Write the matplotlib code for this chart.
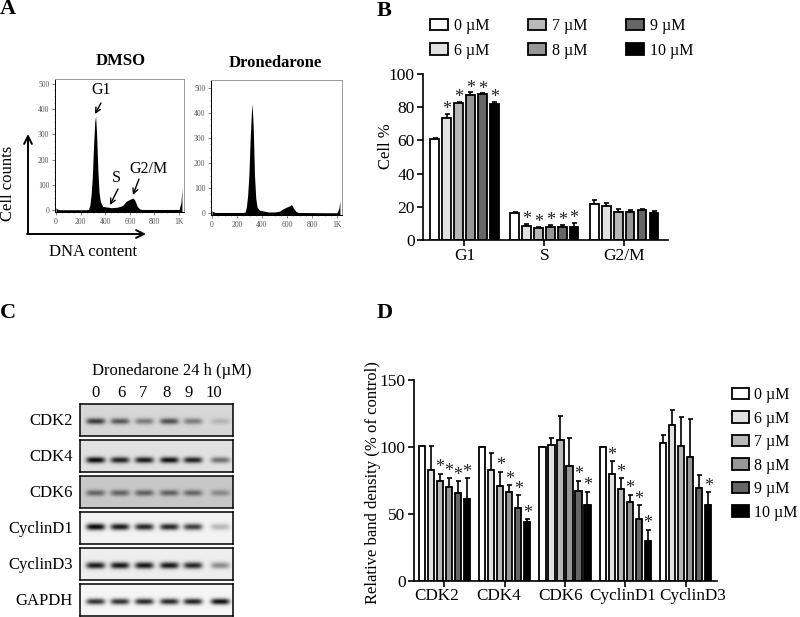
import numpy as np
import matplotlib
matplotlib.use("Agg")
import matplotlib.pyplot as plt
from matplotlib.ticker import MultipleLocator

plt.rcParams["font.family"] = ["Liberation Serif", "DejaVu Serif"]
plt.rcParams["mathtext.fontset"] = "stix"

W, H = 800, 617

# Panel A histograms
dmso_x = [0, 10, 25, 250, 265, 275, 285, 295, 305, 315, 322, 330, 340, 350, 360, 380, 450,
          500, 540, 570, 600, 625, 640, 660, 680, 700, 900, 1000, 1015, 1023]
dmso_y = [10, 5, 2, 2, 4, 20, 60, 130, 250, 350, 372, 300, 160, 70, 35, 15, 10,
          12, 18, 35, 43, 48, 40, 15, 5, 3, 3, 3, 30, 85]
drone_x = [0, 10, 25, 250, 265, 275, 285, 295, 305, 315, 321, 330, 340, 350, 360, 380, 450,
           500, 540, 570, 600, 625, 636, 650, 670, 690, 900, 1000, 1015, 1023]
drone_y = [10, 6, 3, 3, 5, 25, 70, 150, 290, 400, 435, 340, 150, 60, 25, 12, 5,
           5, 8, 18, 25, 30, 35, 22, 8, 3, 2, 2, 20, 50]
flow_ticks_x = [0, 200, 400, 600, 800, 1000]
flow_labels_x = ["0", "200", "400", "600", "800", "1K"]
flow_ticks_y = [0, 100, 200, 300, 400, 500]

# Panel B
cycle_groups = ["G1", "S", "G2/M"]
cycle_doses = ["0 µM", "6 µM", "7 µM", "8 µM", "9 µM", "10 µM"]
cycle_vals = [[60.6, 16.4, 21.8], [73.3, 8.3, 20.3], [82.7, 7.3, 16.7],
              [87.3, 8.0, 17.0], [88.0, 8.0, 18.2], [82.0, 7.7, 16.1]]
cycle_errs = [[1.0, 0.2, 2.5], [2.8, 1.3, 1.8], [0.4, 0.5, 2.0],
              [1.6, 1.2, 1.0], [0.4, 1.2, 0.6], [1.2, 2.5, 1.1]]
cycle_stars = [[], [0, 1], [0, 1], [0, 1], [0, 1], [0, 1]]

# Panel D
band_groups = ["CDK2", "CDK4", "CDK6", "CyclinD1", "CyclinD3"]
band_vals = [[100.4, 99.7, 99.7, 99.7, 103.0], [82.7, 83.2, 101.4, 80.2, 116.4],
             [74.5, 71.0, 104.9, 68.3, 100.4], [70.5, 66.3, 86.0, 58.6, 92.4],
             [65.3, 54.8, 67.3, 45.9, 69.3], [61.5, 43.9, 57.0, 30.2, 56.6]]
band_errs = [[0.5, 0, 0, 0, 5.7], [17.7, 12.0, 5.0, 9.3, 11.0],
             [5.7, 10.7, 18.5, 8.5, 22.0], [6.7, 5.2, 20.4, 5.7, 28.5],
             [9.0, 9.2, 7.7, 10.7, 9.5], [15.2, 2.0, 9.5, 8.2, 9.5]]
band_stars = [[], [3], [0, 1, 3], [0, 1, 3], [0, 1, 2, 3], [0, 1, 2, 3, 4]]

# Panel C blots: name, band strength per lane, background grey
blot_names = ["CDK2", "CDK4", "CDK6", "CyclinD1", "CyclinD3", "GAPDH"]
blot_lanes = ["0", "6", "7", "8", "9", "10"]
blot_strength = [[0.72, 0.58, 0.42, 0.62, 0.42, 0.16],
                 [0.95, 0.85, 0.88, 0.92, 0.85, 0.50],
                 [0.50, 0.50, 0.52, 0.52, 0.48, 0.32],
                 [0.98, 0.90, 0.85, 0.85, 0.75, 0.25],
                 [0.90, 0.92, 0.92, 0.92, 0.85, 0.42],
                 [0.78, 0.78, 0.82, 0.82, 0.85, 0.92]]
blot_bg = [0.84, 0.88, 0.78, 0.95, 0.93, 0.96]
blot_row = [0.54, 0.63, 0.53, 0.48, 0.56, 0.55]

colors = ["white", "#e0e3e0", "#b8b8b8", "#979797", "#666666", "black"]


def add_ax(left, top, right, bottom):
    return fig.add_axes([left / W, 1 - bottom / H, (right - left) / W, (bottom - top) / H])


fig = plt.figure(figsize=(W / 100, H / 100), dpi=100)

# pixel overlay for the free text and arrows
ov = add_ax(0, 0, W, H)
ov.set_xlim(0, W)
ov.set_ylim(H, 0)
ov.axis("off")
ov.set_zorder(5)


def flow_panel(box, xs, ys, x_off, y_range):
    ax = add_ax(*box)
    ax.fill_between(xs, ys, -10, color="black", lw=0)
    ax.set_xlim(x_off, 1040)
    ax.set_ylim(*y_range)
    ax.set_xticks(flow_ticks_x)
    ax.set_xticklabels(flow_labels_x)
    ax.set_yticks(flow_ticks_y)
    ax.xaxis.set_minor_locator(MultipleLocator(50))
    ax.yaxis.set_minor_locator(MultipleLocator(25))
    ax.tick_params(labelsize=5.5, length=2, width=0.5, colors="#555555", pad=2)
    ax.tick_params(which="minor", length=1, width=0.4, color="#555555")
    for name in ["top", "right"]:
        ax.spines[name].set_color("#999999")
    for name in ax.spines:
        ax.spines[name].set_linewidth(0.7)
    return ax


flow_panel((55, 79, 184, 212), dmso_x, dmso_y, -8, (-7, 518))
flow_panel((211, 80, 342, 215), drone_x, drone_y, -8, (-7, 530))


def grouped_bars(ax, vals, errs, stars, step, width, star_off, star_size):
    for i, (v, e) in enumerate(zip(vals, errs)):
        x = np.arange(len(v)) + (i - 2.5) * step
        ax.errorbar(x, v, yerr=[np.zeros(len(e)), e], fmt="none", ecolor="black",
                    elinewidth=1.2, capsize=1.8, capthick=1.2, zorder=1)
        ax.bar(x, v, width, color=colors[i], edgecolor="black", linewidth=1.3,
               label=cycle_doses[i], zorder=2)
        for g in stars[i]:
            ax.text(x[g], v[g] + e[g] + star_off, "*", ha="center", va="center",
                    fontsize=star_size, color="#222222")


def style_bar_ax(ax, groups, xlim, ylim, major):
    ax.set_xlim(*xlim)
    ax.set_ylim(*ylim)
    ax.set_xticks(range(len(groups)))
    ax.set_xticklabels(groups)
    ax.yaxis.set_major_locator(MultipleLocator(major))
    ax.spines["top"].set_visible(False)
    ax.spines["right"].set_visible(False)
    ax.spines["left"].set_linewidth(1.2)
    ax.spines["bottom"].set_linewidth(1.2)
    ax.tick_params(labelsize=12.5, length=4, width=1.2, pad=2)
    ax.patch.set_alpha(0)


# Panel B
ax_b = add_ax(423, 74, 668, 240)
grouped_bars(ax_b, cycle_vals, cycle_errs, cycle_stars, 12.2 / 81.7, 9 / 81.7, 2.5, 13)
style_bar_ax(ax_b, cycle_groups, (-0.52, 2.55), (0, 100), 20)
ax_b.set_ylabel("Cell %", fontsize=12)
ax_b.yaxis.set_label_coords(-0.12, 0.566)
ax_b.legend(ncol=3, loc="upper left", bbox_to_anchor=(430 / W, 1 - 18 / H),
            bbox_transform=fig.transFigure, frameon=False, fontsize=11.5,
            handlelength=1.15, handleheight=0.75, handletextpad=0.35,
            columnspacing=2.4, labelspacing=0.55, borderpad=0, borderaxespad=0)

# Panel D
ax_d = add_ax(414, 380, 717, 581)
grouped_bars(ax_d, band_vals, band_errs, band_stars, 9.0 / 60.3, 6.5 / 60.3, 4.5, 13)
style_bar_ax(ax_d, band_groups, (-0.503, 4.52), (0, 150), 50)
ax_d.set_xticklabels([])
ax_d.set_ylabel("Relative band density (% of control)", fontsize=12)
ax_d.yaxis.set_label_coords(-0.11, 0.49)
ax_d.legend(loc="upper left", bbox_to_anchor=(732 / W, 1 - 387 / H),
            bbox_transform=fig.transFigure, frameon=False, fontsize=11.5,
            handlelength=1.05, handleheight=0.75, handletextpad=0.35,
            labelspacing=0.47, borderpad=0, borderaxespad=0)
# the group names sit a bit left of their ticks in the original
for lab, cx in zip(band_groups, [437, 499, 561, 623, 693]):
    ov.text(cx, 596, lab, ha="center", va="center", fontsize=12.3)

# Panel C
blot_tops = [404, 440, 476, 512, 548, 584]
lane_x = np.array([0.10, 0.26, 0.42, 0.585, 0.74, 0.92])
for name, strength, bg, row, top in zip(blot_names, blot_strength, blot_bg, blot_row, blot_tops):
    xx, yy = np.meshgrid(np.linspace(0, 1, 153), np.linspace(0, 1, 32))
    img = np.full(xx.shape, bg)
    for cx, s in zip(lane_x, strength):
        band = np.exp(-((xx - cx) / 0.062) ** 4 - ((yy - row) / 0.10) ** 2)
        img -= s * bg * band
    ax = add_ax(80, top, 233, top + 32)
    ax.imshow(img, cmap="gray", vmin=0, vmax=1, aspect="auto")
    ax.set_xticks([])
    ax.set_yticks([])
    for sp in ax.spines.values():
        sp.set_linewidth(1.1)
    ov.text(73, top + 17, name, ha="right", va="center", fontsize=12)

for lab, cx in zip(blot_lanes, [96, 121, 143, 167, 189, 214]):
    ov.text(cx, 393, lab, ha="center", va="center", fontsize=12)
ov.text(172, 371, "Dronedarone 24 h (µM)", ha="center", va="center", fontsize=12)

# Panel letters
ov.text(0, 9, "A", fontsize=16, fontweight="bold", va="center")
ov.text(377, 11, "B", fontsize=16, fontweight="bold", va="center")
ov.text(0, 313, "C", fontsize=16, fontweight="bold", va="center")
ov.text(377, 313, "D", fontsize=16, fontweight="bold", va="center")

# Panel A text and arrows
ov.text(121, 61, "DMSO", ha="center", va="center", fontsize=12, fontweight="bold")
ov.text(275, 63, "Dronedarone", ha="center", va="center", fontsize=12, fontweight="bold")
ov.text(101, 90, "G1", ha="center", va="center", fontsize=11.5)
ov.text(116, 178, "S", ha="center", va="center", fontsize=11.5)
ov.text(148, 169, "G2/M", ha="center", va="center", fontsize=11.5)
ov.text(8.5, 183, "Cell counts", ha="center", va="center", rotation=90, fontsize=12)
ov.text(93, 252, "DNA content", ha="center", va="center", fontsize=12)


def arrow(start, end, lw=1.0, scale=9):
    ov.annotate("", xy=end, xytext=start,
                arrowprops=dict(arrowstyle="->", lw=lw, color="black", mutation_scale=scale,
                                shrinkA=0, shrinkB=0))


arrow((101, 103), (95, 114))
arrow((118, 189), (110, 205))
arrow((139, 179), (133, 195))
arrow((28, 234), (28, 134), lw=1.4, scale=14)
arrow((27, 234), (146, 234), lw=1.4, scale=14)

fig.savefig("out.png", dpi=100)
